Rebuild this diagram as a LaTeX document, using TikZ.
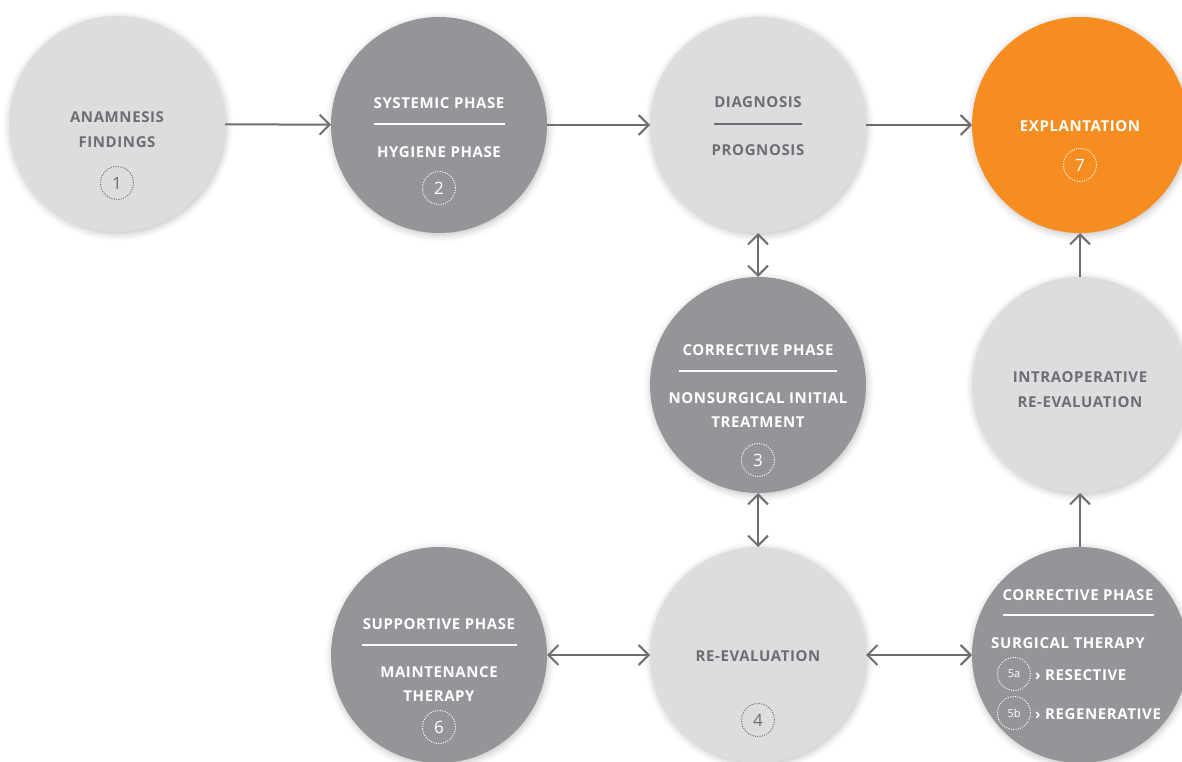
\documentclass[tikz,border=0pt]{standalone}
\usepackage{fontspec}
\setmainfont{Open Sans}[LetterSpace=4]
\newfontfamily\numfont{Open Sans}
\usetikzlibrary{arrows.meta,shadows.blur}

\definecolor{phaselight}{HTML}{DCDDDF}
\definecolor{phasedark}{HTML}{939598}
\definecolor{phaseorange}{HTML}{F68D20}
\definecolor{ink}{HTML}{6D6E71}

\begin{document}
\begin{tikzpicture}[x=1pt,y=-1pt,
    >={Straight Barb[length=10pt,width=20pt]},
    phase/.style={circle,minimum size=216pt,inner sep=0pt,outer sep=0pt,
        blur shadow={shadow xshift=1pt,shadow yshift=-2pt,shadow blur radius=7pt,shadow opacity=25}},
    light/.style={phase,fill=phaselight},
    dark/.style={phase,fill=phasedark},
    txt/.style={font=\bfseries\fontsize{15}{24.5}\selectfont,align=center,text=ink,inner sep=0pt},
    wtxt/.style={txt,text=white},
    badge/.style={circle,draw=ink,line width=1pt,dash pattern=on 1pt off 1.4pt,
        minimum size=33pt,inner sep=0pt,text=ink,font=\numfont\fontsize{17}{17}\selectfont},
    wbadge/.style={badge,draw=white,text=white},
    rule/.style={line width=1.5pt,draw=ink},
    wrule/.style={rule,draw=white},
    link/.style={draw=ink,line width=2pt}]
    \useasboundingbox (0,0) rectangle (1182,762);

    % phase circles
    \coordinate (A) at (117,124);
    \coordinate (B) at (439,125);
    \coordinate (C) at (758,125);
    \coordinate (D) at (1080,125);
    \coordinate (E) at (758,385);
    \coordinate (F) at (1080,385);
    \coordinate (G) at (439,655);
    \coordinate (H) at (758,655);
    \coordinate (K) at (1080,655);

    \node[light] (anam) at (A) {};
    \node[dark] (syst) at (B) {};
    \node[light] (diag) at (C) {};
    \node[phase,fill=phaseorange] (expl) at (D) {};
    \node[dark] (corr) at (E) {};
    \node[light] (intra) at (F) {};
    \node[dark] (supp) at (G) {};
    \node[light] (reev) at (H) {};
    \node[dark] (surg) at (K) {};

    % arrows
    \foreach \from/\to in {anam/syst, syst/diag, diag/expl, surg/intra, intra/expl}
    \draw[link,->] (\from) -- (\to);
    \foreach \from/\to in {diag/corr, corr/reev, supp/reev, reev/surg}
    \draw[link,<->] (\from) -- (\to);

    % texts
    \node[txt] (anamtxt) at (117,129.5) {ANAMNESIS\\FINDINGS};
    \node[badge] (n1) at (117,183) {1};

    \node[wtxt] (systtxt) at (439,103) {SYSTEMIC PHASE};
    \draw[wrule] (374,124) -- (505,124);
    \node[wtxt] (hygtxt) at (439,152) {HYGIENE PHASE};
    \node[wbadge] (n2) at (439,188) {2};

    \node[txt] (diagtxt) at (758,102) {DIAGNOSIS};
    \draw[rule] (714,124) -- (802,124);
    \node[txt] (progtxt) at (758,150) {PROGNOSIS};

    \node[wtxt] (expltxt) at (1080,126) {EXPLANTATION};
    \node[wbadge] (n7) at (1080,165) {7};

    \node[wtxt] (corrtxt) at (758,350) {CORRECTIVE PHASE};
    \draw[wrule] (679,371) -- (837,371);
    \node[wtxt] (nonstxt) at (758,410) {NONSURGICAL INITIAL\\TREATMENT};
    \node[wbadge] (n3) at (758,460) {3};

    \node[txt] (intratxt) at (1080,389.5) {INTRAOPERATIVE\\RE-EVALUATION};

    \node[wtxt] (supptxt) at (439,624) {SUPPORTIVE PHASE};
    \draw[wrule] (362,645) -- (517,645);
    \node[wtxt] (mainttxt) at (439,684) {MAINTENANCE\\THERAPY};
    \node[wbadge] (n6) at (439,727) {6};

    \node[txt] (reevtxt) at (758,656) {RE-EVALUATION};
    \node[badge] (n4) at (758,720) {4};

    \node[wtxt] (surgcorrtxt) at (1078,595) {CORRECTIVE PHASE};
    \draw[wrule] (1003,615) -- (1154,615);
    \node[wtxt] (surgtxt) at (1068,643) {SURGICAL THERAPY};
    \node[wbadge,font=\numfont\fontsize{11}{11}\selectfont] (n5a) at (1014,674) {5a};
    \node[wtxt,anchor=west] (restxt) at (1035,675) {› RESECTIVE};
    \node[wbadge,font=\numfont\fontsize{11}{11}\selectfont] (n5b) at (1014,713) {5b};
    \node[wtxt,anchor=west] (regtxt) at (1035,714) {› REGENERATIVE};
\end{tikzpicture}
\end{document}
